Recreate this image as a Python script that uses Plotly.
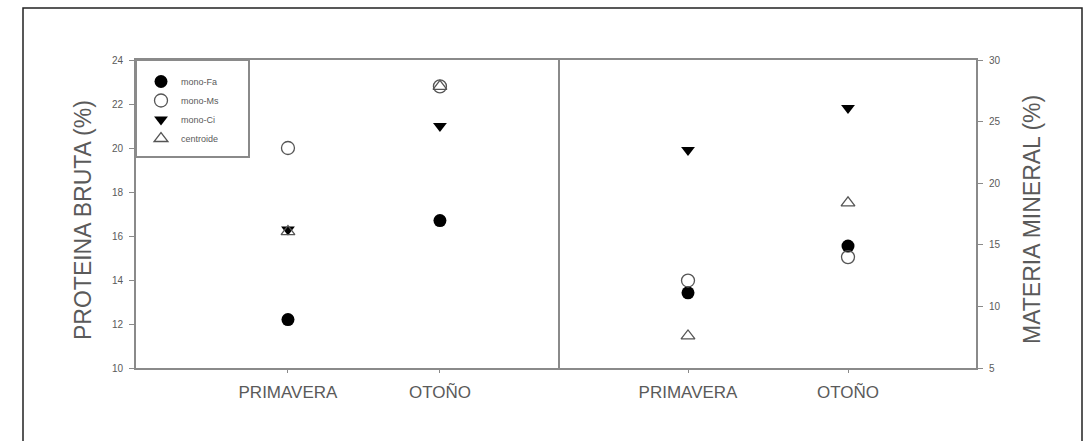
import plotly.graph_objects as go

# Seasons and their numeric positions on each panel
seasons = ["PRIMAVERA", "OTOÑO"]
season_pos = [1, 2]

series_names = ["mono-Fa", "mono-Ms", "mono-Ci", "centroide"]

# Crude protein (%), left panel
protein_fa = [12.2, 16.7]
protein_ms = [20.0, 22.8]
protein_ci = [16.3, 21.0]
protein_cen = [16.2, 22.8]

# Mineral matter (%), right panel
mineral_fa = [11.1, 14.9]
mineral_ms = [12.1, 14.0]
mineral_ci = [22.7, 26.1]
mineral_cen = [7.6, 18.4]

W, H = 1090, 441
FONT = "Liberation Sans, Arial, sans-serif"
AXIS_GRAY = "#8a8a8a"
TEXT_GRAY = "#5a5a5a"


def px_x(p):
    return p / W


def px_y(p):
    return 1 - p / H


styles = {
    "mono-Fa": dict(symbol="circle", color="black", size=13, line=dict(width=0)),
    "mono-Ms": dict(symbol="circle-open", color="#555555", size=13, line=dict(width=1.3)),
    "mono-Ci": dict(symbol="triangle-down", color="black", size=12, line=dict(width=0)),
    "centroide": dict(symbol="triangle-up-open", color="#555555", size=12, line=dict(width=1.3)),
}

fig = go.Figure()

left_data = [protein_fa, protein_ms, protein_ci, protein_cen]
right_data = [mineral_fa, mineral_ms, mineral_ci, mineral_cen]

for name, vals in zip(series_names, left_data):
    fig.add_trace(go.Scatter(
        x=season_pos, y=vals, mode="markers", name=name,
        marker=styles[name], xaxis="x", yaxis="y", showlegend=True,
    ))

for name, vals in zip(series_names, right_data):
    fig.add_trace(go.Scatter(
        x=season_pos, y=vals, mode="markers", name=name,
        marker=styles[name], xaxis="x2", yaxis="y2", showlegend=False,
    ))

ydom = [px_y(368), px_y(60)]

common_x = dict(
    tickmode="array", tickvals=season_pos, ticktext=seasons,
    showline=True, linecolor=AXIS_GRAY, linewidth=2, mirror=True,
    ticks="outside", ticklen=3, tickcolor=AXIS_GRAY, tickwidth=1,
    ticklabelstandoff=5,
    showgrid=False, zeroline=False, automargin=False,
    tickfont=dict(family=FONT, size=17, color=TEXT_GRAY),
)

common_y = dict(
    showline=True, linecolor=AXIS_GRAY, linewidth=2,
    ticks="outside", ticklen=5, tickcolor=AXIS_GRAY, tickwidth=1,
    ticklabelstandoff=4,
    showgrid=False, zeroline=False, automargin=False,
    tickfont=dict(family=FONT, size=10, color=TEXT_GRAY),
)

fig.update_layout(
    width=W, height=H, autosize=False,
    margin=dict(l=0, r=0, t=0, b=0, pad=0),
    paper_bgcolor="white", plot_bgcolor="white",
    xaxis=dict(domain=[px_x(136), px_x(560)], range=[0.0, 2.79], anchor="y", **common_x),
    xaxis2=dict(domain=[px_x(560), px_x(976)], range=[0.2, 2.8], anchor="y2", **common_x),
    yaxis=dict(domain=ydom, range=[10, 24], dtick=2, anchor="x", side="left",
               mirror=False, **common_y),
    yaxis2=dict(domain=ydom, range=[5, 30], dtick=5, anchor="x2", side="right",
                mirror=True, **common_y),
    showlegend=True,
    legend=dict(
        x=px_x(141), y=px_y(67), xanchor="left", yanchor="top",
        bgcolor="rgba(0,0,0,0)", borderwidth=0,
        font=dict(family=FONT, size=9, color=TEXT_GRAY),
        itemsizing="trace",
    ),
    shapes=[
        # legend box
        dict(type="rect", xref="paper", yref="paper",
             x0=px_x(136), x1=px_x(249), y0=px_y(157), y1=px_y(60),
             line=dict(color=AXIS_GRAY, width=2), fillcolor="rgba(0,0,0,0)"),
        # outer frame
        dict(type="rect", xref="paper", yref="paper",
             x0=px_x(23), x1=px_x(1082), y0=-0.2, y1=px_y(8),
             line=dict(color="#222222", width=1.5), fillcolor="rgba(0,0,0,0)"),
    ],
    annotations=[
        dict(text="PROTEINA BRUTA (%)", xref="paper", yref="paper",
             x=px_x(83), y=px_y(220), xanchor="center", yanchor="middle",
             textangle=-90, showarrow=False,
             font=dict(family=FONT, size=23, color=TEXT_GRAY)),
        dict(text="MATERIA MINERAL (%)", xref="paper", yref="paper",
             x=px_x(1032), y=px_y(220), xanchor="center", yanchor="middle",
             textangle=-90, showarrow=False,
             font=dict(family=FONT, size=23, color=TEXT_GRAY)),
    ],
)

fig.write_html("out.html")
